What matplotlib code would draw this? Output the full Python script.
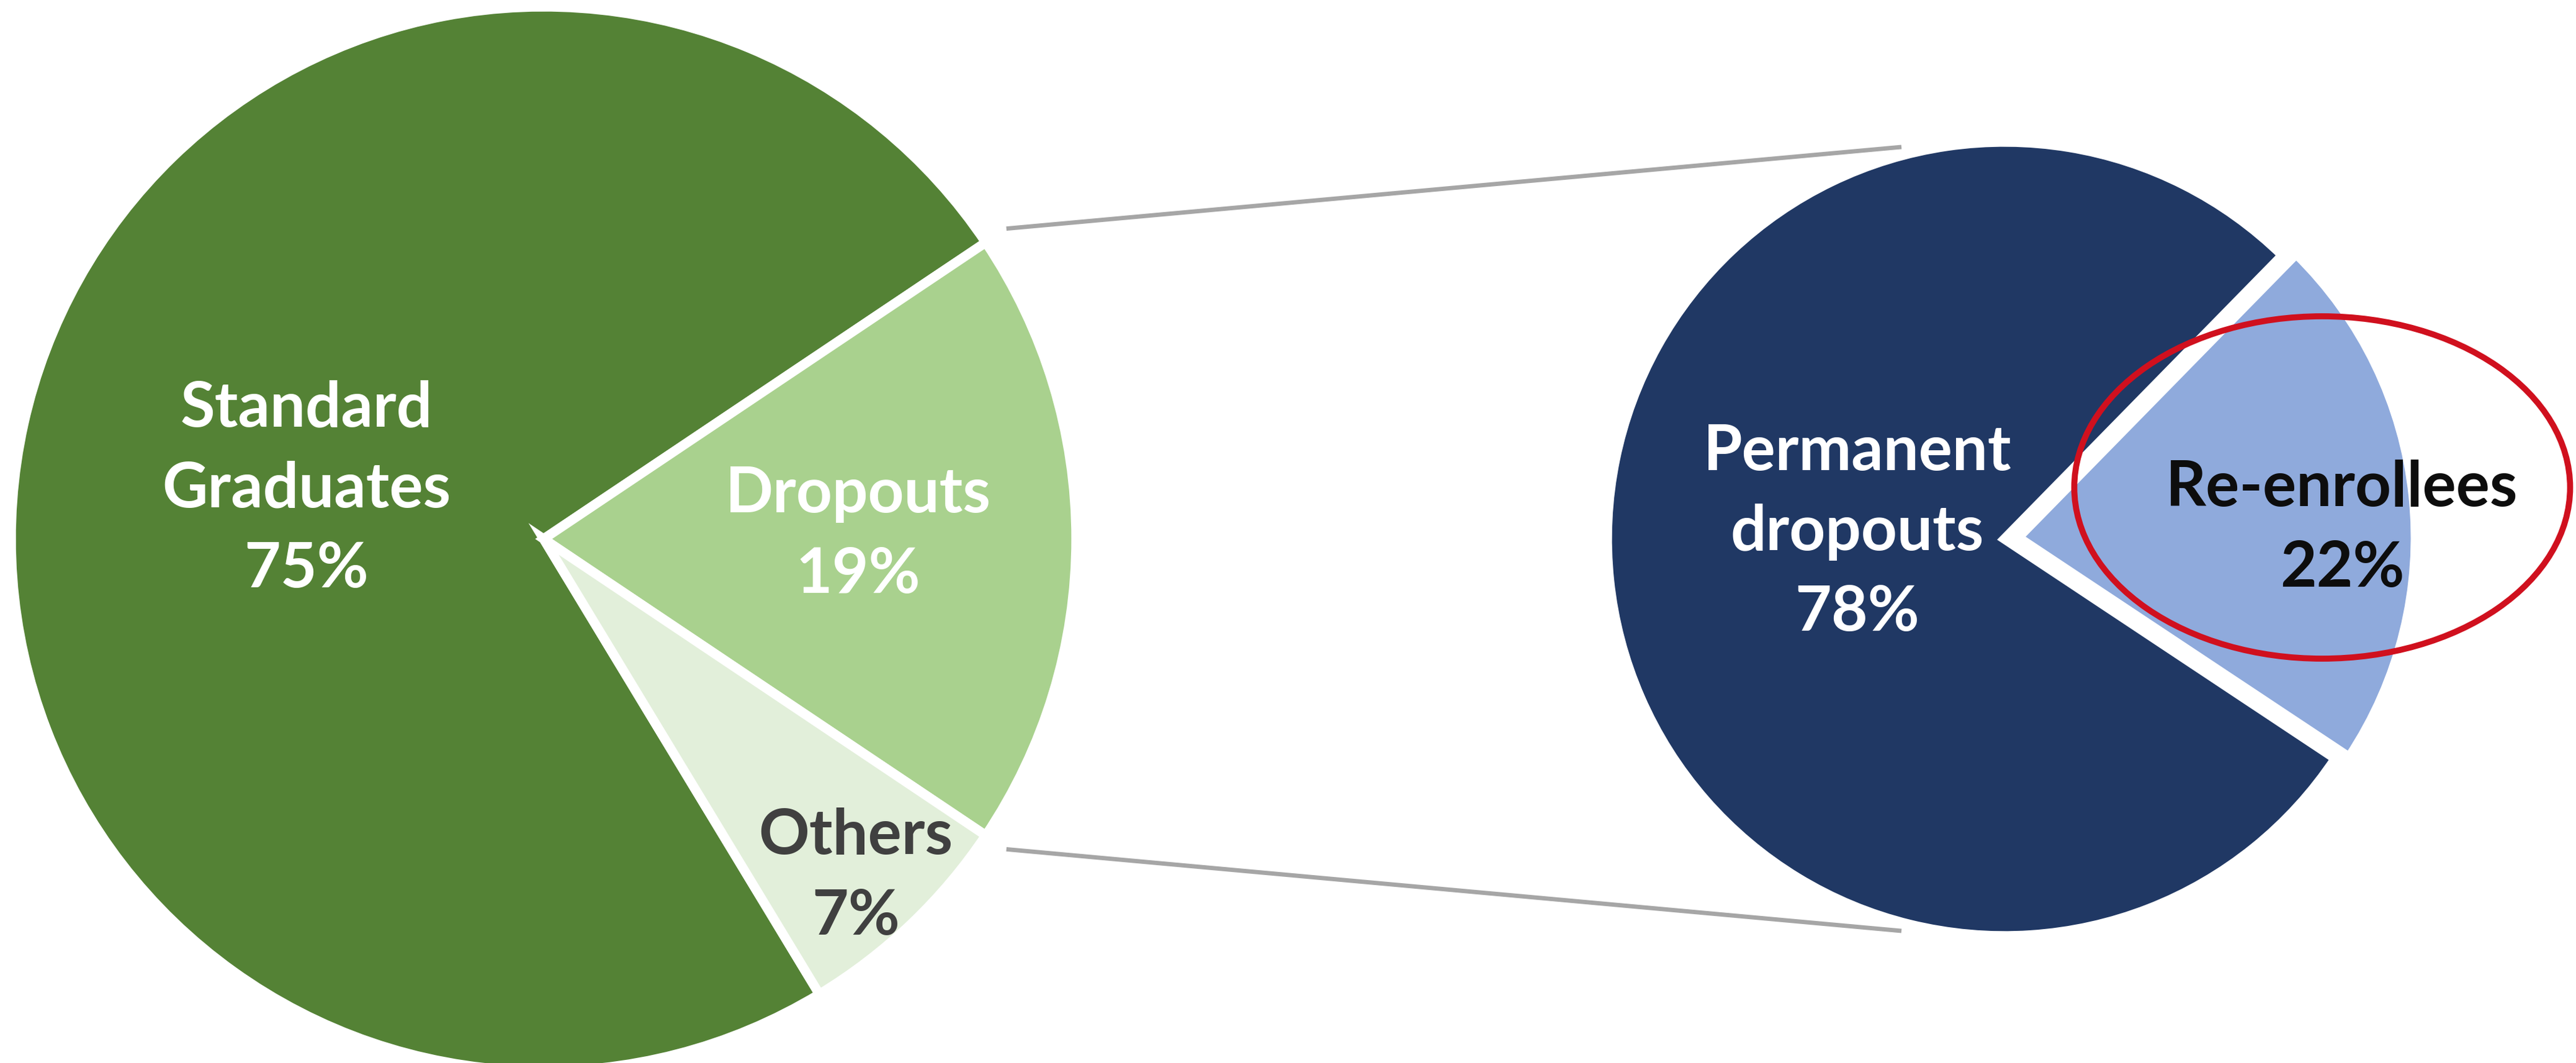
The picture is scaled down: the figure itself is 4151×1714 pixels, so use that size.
import numpy as np
import matplotlib
matplotlib.use("Agg")
import matplotlib.pyplot as plt
from matplotlib.patches import Ellipse

plt.rcParams['font.family'] = ['Lato', 'DejaVu Sans']

# data
main_labels = ["Standard\nGraduates", "Dropouts", "Others"]
main_values = [75, 19, 7]
main_colors = ["#548235", "#a9d18e", "#e2efda"]
main_text_colors = ["white", "white", "#404040"]

sub_labels = ["Permanent\ndropouts", "Re-enrollees"]
sub_values = [78, 22]
sub_colors = ["#203864", "#8faadc"]
sub_text_colors = ["white", "#0d0d0d"]

# layout (pixel coordinates, y measured from the bottom)
W, H = 4151, 1714
c1, r1 = (876, H - 869), 858
c2, r2 = (3230, H - 869), 640

fig = plt.figure(figsize=(W / 100, H / 100), dpi=100)
ax = fig.add_axes([0, 0, 1, 1])

tot = sum(main_values)
ang = [v / tot * 360 for v in main_values]
start1 = ang[1] / 2 + ang[0]
ax.pie(main_values, colors=main_colors, radius=r1, center=c1,
       startangle=start1, counterclock=False, frame=True,
       wedgeprops=dict(edgecolor="white", linewidth=11))

sub_ang = [v / sum(sub_values) * 360 for v in sub_values]
start2 = 6 + sub_ang[1] / 2 + sub_ang[0]
# explode is in data units here (pixels), so scale by the radius
ax.pie(sub_values, colors=sub_colors, radius=r2, center=c2,
       startangle=start2, counterclock=False, frame=True,
       explode=[0, 0.035 * r2],
       wedgeprops=dict(edgecolor="white", linewidth=11))

# connector lines from the dropouts wedge to the secondary pie
a_top = np.radians(ang[1] / 2)
p0 = (c1[0] + (r1 + 40) * np.cos(a_top), c1[1] + (r1 + 40) * np.sin(a_top))
ax.plot([p0[0], c2[0] - 166], [p0[1], c2[1] + r2 - 8], color="#a6a6a6", lw=5,
        solid_capstyle="butt")
p1 = (c1[0] + (r1 + 40) * np.cos(-a_top), c1[1] + (r1 + 40) * np.sin(-a_top))
ax.plot([p1[0], c2[0] - 166], [p1[1], c2[1] - r2 + 8], color="#a6a6a6", lw=5,
        solid_capstyle="butt")

# labels
main_pos = [(494, H - 788), (1383, H - 862), (1379, H - 1413)]
for lab, v, pos, tc in zip(main_labels, main_values, main_pos, main_text_colors):
    ax.text(pos[0], pos[1], f"{lab}\n{v}%", ha="center", va="center",
            fontsize=73, fontweight="bold", color=tc, linespacing=1.5)

sub_pos = [(2993, H - 858), (3774, H - 852)]
for lab, v, pos, tc in zip(sub_labels, sub_values, sub_pos, sub_text_colors):
    ax.text(pos[0], pos[1], f"{lab}\n{v}%", ha="center", va="center",
            fontsize=73, fontweight="bold", color=tc, linespacing=1.5)

# highlight
ax.add_patch(Ellipse((3742, H - 786), 799, 552, fill=False,
                     edgecolor="#d0101e", lw=7))

ax.set_xlim(0, W)
ax.set_ylim(0, H)
ax.set_aspect("equal")
ax.axis("off")

fig.savefig("out.png", dpi=100, facecolor="white")
